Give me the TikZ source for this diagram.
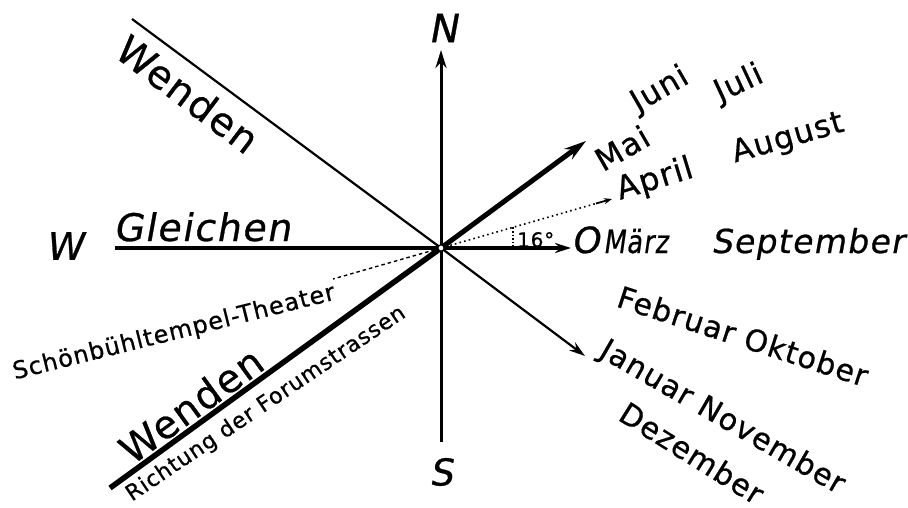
\documentclass[tikz,border=0pt]{standalone}
\usepackage{fontspec}
\usetikzlibrary{arrows.meta}
\newfontfamily\hand[LetterSpace=4,FakeBold=0.7]{DejaVu Sans}
\newfontfamily\handit[LetterSpace=4,FakeBold=0.7,FakeSlant=0.18]{DejaVu Sans}
\newcommand{\hsz}[1]{\fontsize{#1}{#1}\selectfont}
\begin{document}
\begin{tikzpicture}[x=1pt,y=-1pt,
  lbl/.style={inner sep=0pt, text=black},
  axis/.style={line width=3pt},
  thinline/.style={line width=2.2pt},
  thickline/.style={line width=5.5pt},
  tipN/.style={-{Stealth[length=18pt,width=11pt]}},
  tipM/.style={-{Stealth[length=16pt,width=10pt]}},
  tipS/.style={-{Stealth[length=8pt,width=6pt]}},
  dotline/.style={line width=1.6pt, dash pattern=on 1.6pt off 3.2pt},
  dashline/.style={line width=1.4pt, dash pattern=on 3.5pt off 3pt}]
\fill[white] (0,0) rectangle (908,508);
\useasboundingbox (0,0) rectangle (908,508);

% coordinates
\coordinate (C) at (441,248);
\coordinate (Nt) at (441,50);
\coordinate (Sb) at (441,442);
\coordinate (Wl) at (115,248);
\coordinate (Ot) at (571,248);
\coordinate (NWe) at (132,19);
\coordinate (SEt) at (585,356);
\coordinate (NEt) at (586,141);
\coordinate (SWe) at (110,488);
\coordinate (Dm) at (596,203.5);
\coordinate (Dt) at (612,199);
\coordinate (Dl) at (333,279);
\coordinate (Vt) at (513,227.3);
\coordinate (Vb) at (513,248);

% lines
\draw[axis, tipN] (Sb) -- (Nt);
\draw[line width=4.5pt] (Wl) -- (C);
\draw[line width=3.5pt, tipM] (C) -- (Ot);
\draw[thinline] (NWe) -- (C);
\draw[thinline, tipM] (C) -- (SEt);
\draw[thickline] (SWe) -- (C);
\draw[line width=5pt, -{Stealth[length=22pt,width=13pt]}] (C) -- (NEt);
\draw[dotline] (C) -- (Dm);
\draw[line width=1.8pt, tipS] (Dm) -- (Dt);
\draw[dashline] (C) -- (Dl);
\draw[line width=1.4pt, dash pattern=on 1.6pt off 2pt] (Vt) -- (Vb);
\draw[line width=1.3pt, fill=white] (C) circle (3.2pt);

% labels
\node[lbl] (N) at (443,28) {\handit\hsz{39}N};
\node[lbl] (S) at (441,472) {\handit\hsz{37}S};
\node[lbl] (W) at (64,246) {\handit\hsz{38}W};
\node[lbl, anchor=base west] (O) at (571,253) {\handit\hsz{36}O};
\node[lbl, anchor=base west] (maerz) at (603,253) {\scalebox{0.8}[1]{\handit\hsz{32}März}};
\node[lbl, anchor=base west] (sept) at (711,253) {\handit\hsz{33}September};
\node[lbl, anchor=base] (gleichen) at (202,241) {\handit\hsz{38}Gleichen};
\node[lbl, rotate=-37] (wendenA) at (188,94) {\hand\hsz{39}Wenden};
\node[lbl, rotate=36] (wendenB) at (191,405) {\hand\hsz{39}Wenden};
\node[lbl, rotate=34] (richtung) at (266,404) {\hand\hsz{22}Richtung der Forumstrassen};
\node[lbl, rotate=14] (theater) at (174,333) {\hand\hsz{24}Schönbühltempel-Theater};
\node[lbl, anchor=base west] (deg) at (517,247) {\hand\hsz{20}16°};
\node[lbl, rotate=30] (juni) at (660,90) {\hand\hsz{31}Juni};
\node[lbl, rotate=25] (juli) at (739,84) {\hand\hsz{31}Juli};
\node[lbl, rotate=30] (mai) at (622,148) {\hand\hsz{31}Mai};
\node[lbl, rotate=16] (august) at (788,139) {\hand\hsz{31}August};
\node[lbl, rotate=17] (april) at (655,180) {\hand\hsz{32}April};
\node[lbl, rotate=-18] (febr) at (743,336) {\hand\hsz{30}Februar Oktober};
\node[lbl, rotate=-30] (jan) at (722,418) {\hand\hsz{30}Januar November};
\node[lbl, rotate=-32] (dez) at (692,453) {\hand\hsz{30}Dezember};
\end{tikzpicture}
\end{document}
